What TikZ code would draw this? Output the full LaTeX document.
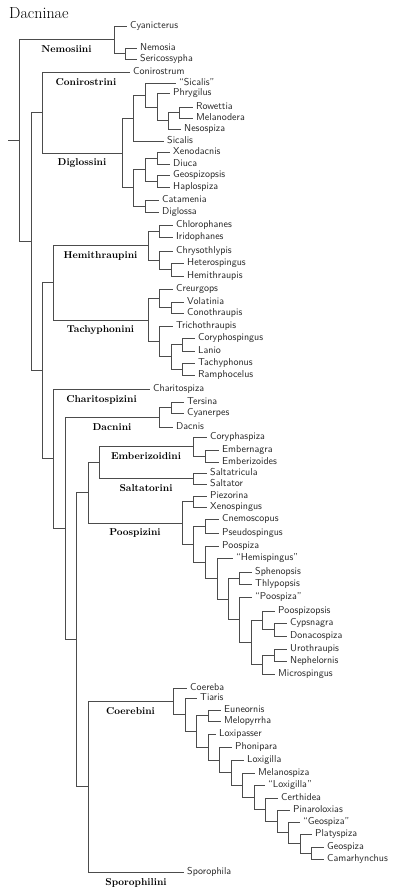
\documentclass[tikz,border=0pt]{standalone}
\usepackage{tikz}
\usetikzlibrary{positioning}

\begin{document}
\begin{tikzpicture}[
  x=1pt, y=-1pt,
  font=\sffamily\fontsize{10}{12}\selectfont,
  ramo/.style={draw=black!70, line width=0.6pt},
  folha/.style={anchor=west, inner xsep=3pt, inner ysep=0pt,
                text height=1.5ex, text depth=.5ex, text=black!85},
  tribo/.style={font=\rmfamily\bfseries\fontsize{10}{12}\selectfont,
                below=2.5pt, inner sep=3.3pt},
]
\useasboundingbox (0,0) rectangle (400,896);

\node[anchor=base west, inner sep=0pt, font=\rmfamily\fontsize{16}{18}\selectfont]
      (titulo) at (9,19) {Dacninae};

% ---- Raiz e Nemosiini -----------------------------------------------------
\coordinate (base) at (8,140.7);
\coordinate (n0)   at (19,140.7);
\coordinate (nem)  at (114,39.8);
\coordinate (nemB) at (125,53.5);
\node[folha] (cyanicterus)  at (127,26) {Cyanicterus};
\node[folha] (nemosia)      at (137,48) {Nemosia};
\node[folha] (sericossypha) at (137,59) {Sericossypha};

\draw[ramo] (base) -- (n0);
\draw[ramo] (n0) |- node[tribo, pos=.75] {Nemosiini} (nem);
\draw[ramo] (nem) |- (cyanicterus.west) (nem) |- (nemB);
\draw[ramo] (nemB) |- (nemosia.west) (nemB) |- (sericossypha.west);

% ---- Conirostrini e Diglossini ------------------------------------------
\coordinate (n1)   at (31,241.6);
\coordinate (cd)   at (42,112.4);
\coordinate (dig)  at (122,152.9);
\coordinate (dA)   at (133,118);
\coordinate (dA1)  at (145,94.9);
\coordinate (dA2)  at (157,106.9);
\coordinate (dA3)  at (168,120.75);
\coordinate (dA4)  at (179,112.5);
\coordinate (dB)   at (133,187.75);
\coordinate (dB1)  at (145,169.5);
\coordinate (dB11) at (157,158);
\coordinate (dB12) at (157,181);
\coordinate (dB2)  at (145,206);
\node[folha] (conirostrum)  at (130,72)  {Conirostrum};
\node[folha] (sicalisQ)     at (176,83)  {``Sicalis''};
\node[folha] (phrygilus)    at (170,93)  {Phrygilus};
\node[folha] (rowettia)     at (193,107) {Rowettia};
\node[folha] (melanodera)   at (193,118) {Melanodera};
\node[folha] (nesospiza)    at (181,129) {Nesospiza};
\node[folha] (sicalis)      at (164,141) {Sicalis};
\node[folha] (xenodacnis)   at (170,152) {Xenodacnis};
\node[folha] (diuca)        at (170,164) {Diuca};
\node[folha] (geospizopsis) at (170,175) {Geospizopsis};
\node[folha] (haplospiza)   at (170,187) {Haplospiza};
\node[folha] (catamenia)    at (159,200) {Catamenia};
\node[folha] (diglossa)     at (159,212) {Diglossa};

\draw[ramo] (n0) |- (n1);
\draw[ramo] (n1) |- (cd);
\draw[ramo] (cd) |- node[tribo, pos=.75] {Conirostrini} (conirostrum.west);
\draw[ramo] (cd) |- node[tribo, pos=.75] {Diglossini} (dig);
\draw[ramo] (dig) |- (dA) (dig) |- (dB);
\draw[ramo] (dA) |- (dA1) (dA) |- (sicalis.west);
\draw[ramo] (dA1) |- (sicalisQ.west) (dA1) |- (dA2);
\draw[ramo] (dA2) |- (phrygilus.west) (dA2) |- (dA3);
\draw[ramo] (dA3) |- (dA4) (dA3) |- (nesospiza.west);
\draw[ramo] (dA4) |- (rowettia.west) (dA4) |- (melanodera.west);
\draw[ramo] (dB) |- (dB1) (dB) |- (dB2);
\draw[ramo] (dB1) |- (dB11) (dB1) |- (dB12);
\draw[ramo] (dB11) |- (xenodacnis.west) (dB11) |- (diuca.west);
\draw[ramo] (dB12) |- (geospizopsis.west) (dB12) |- (haplospiza.west);
\draw[ramo] (dB2) |- (catamenia.west) (dB2) |- (diglossa.west);

% ---- Hemithraupini e Tachyphonini ----------------------------------------
\coordinate (n2)    at (42,370.7);
\coordinate (ht)    at (53,282.7);
\coordinate (hemi)  at (148,245.6);
\coordinate (h1)    at (159,231);
\coordinate (h2)    at (159,260.25);
\coordinate (h21)   at (171,269.5);
\coordinate (tachy) at (148,319.8);
\coordinate (t1)    at (159,298.25);
\coordinate (t11)   at (171,307.5);
\coordinate (t2)    at (159,341.4);
\coordinate (t21)   at (171,356.75);
\coordinate (t211)  at (182,344.5);
\coordinate (t212)  at (182,369);
\node[folha] (chlorophanes)   at (173,225) {Chlorophanes};
\node[folha] (iridophanes)    at (173,237) {Iridophanes};
\node[folha] (chrysothlypis)  at (173,251) {Chrysothlypis};
\node[folha] (heterospingus)  at (184,263) {Heterospingus};
\node[folha] (hemithraupis)   at (184,276) {Hemithraupis};
\node[folha] (creurgops)      at (173,289) {Creurgops};
\node[folha] (volatinia)      at (184,302) {Volatinia};
\node[folha] (conothraupis)   at (184,313) {Conothraupis};
\node[folha] (trichothraupis) at (173,326) {Trichothraupis};
\node[folha] (coryphospingus) at (195,338) {Coryphospingus};
\node[folha] (lanio)          at (195,351) {Lanio};
\node[folha] (tachyphonus)    at (195,363) {Tachyphonus};
\node[folha] (ramphocelus)    at (195,375) {Ramphocelus};

\draw[ramo] (n1) |- (n2);
\draw[ramo] (n2) |- (ht);
\draw[ramo] (ht) |- node[tribo, pos=.75] {Hemithraupini} (hemi);
\draw[ramo] (ht) |- node[tribo, pos=.75] {Tachyphonini} (tachy);
\draw[ramo] (hemi) |- (h1) (hemi) |- (h2);
\draw[ramo] (h1) |- (chlorophanes.west) (h1) |- (iridophanes.west);
\draw[ramo] (h2) |- (chrysothlypis.west) (h2) |- (h21);
\draw[ramo] (h21) |- (heterospingus.west) (h21) |- (hemithraupis.west);
\draw[ramo] (tachy) |- (t1) (tachy) |- (t2);
\draw[ramo] (t1) |- (creurgops.west) (t1) |- (t11);
\draw[ramo] (t11) |- (volatinia.west) (t11) |- (conothraupis.west);
\draw[ramo] (t2) |- (trichothraupis.west) (t2) |- (t21);
\draw[ramo] (t21) |- (t211) (t21) |- (t212);
\draw[ramo] (t211) |- (coryphospingus.west) (t211) |- (lanio.west);
\draw[ramo] (t212) |- (tachyphonus.west) (t212) |- (ramphocelus.west);

% ---- Charitospizini e Dacnini --------------------------------------------
\coordinate (n3)   at (53,458.7);
\coordinate (n4)   at (65,528.4);
\coordinate (dac)  at (159,417.25);
\coordinate (dac1) at (171,407.5);
\node[folha] (charitospiza) at (150,389) {Charitospiza};
\node[folha] (tersina)      at (184,402) {Tersina};
\node[folha] (cyanerpes)    at (184,413) {Cyanerpes};
\node[folha] (dacnis)       at (173,427) {Dacnis};

\draw[ramo] (n2) |- (n3);
\draw[ramo] (n3) |- node[tribo, pos=.75] {Charitospizini} (charitospiza.west);
\draw[ramo] (n3) |- (n4);
\draw[ramo] (n4) |- node[tribo, pos=.75] {Dacnini} (dac);
\draw[ramo] (dac) |- (dac1) (dac) |- (dacnis.west);
\draw[ramo] (dac1) |- (tersina.west) (dac1) |- (cyanerpes.west);

% ---- Emberizoidini, Saltatorini e Poospizini ------------------------------
\coordinate (n5)   at (76,639.6);
\coordinate (n6)   at (88,492.6);
\coordinate (es)   at (99,462.5);
\coordinate (emb)  at (193,446.5);
\coordinate (emb1) at (205,456);
\coordinate (sal)  at (193,478.5);
\coordinate (poo)  at (182,522.8);
\coordinate (pz)   at (193,501.5);
\coordinate (p1)   at (193,544);
\coordinate (p11)  at (205,526);
\coordinate (p2)   at (205,562.2);
\coordinate (p3)   at (217,578.4);
\coordinate (p4)   at (228,598.8);
\coordinate (p41)  at (239,578);
\coordinate (p5)   at (239,619.6);
\coordinate (p6)   at (251,642);
\coordinate (p61)  at (262,620);
\coordinate (p611) at (274,629.5);
\coordinate (p62)  at (262,664.5);
\coordinate (p621) at (274,655);
\node[folha] (coryphaspiza)  at (207,437) {Coryphaspiza};
\node[folha] (embernagra)    at (219,450) {Embernagra};
\node[folha] (emberizoides)  at (219,462) {Emberizoides};
\node[folha] (saltatricula)  at (207,473) {Saltatricula};
\node[folha] (saltator)      at (207,484) {Saltator};
\node[folha] (piezorina)     at (207,496) {Piezorina};
\node[folha] (xenospingus)   at (207,507) {Xenospingus};
\node[folha] (cnemoscopus)   at (219,519) {Cnemoscopus};
\node[folha] (pseudospingus) at (219,533) {Pseudospingus};
\node[folha] (poospiza)      at (219,546) {Poospiza};
\node[folha] (hemispingus)   at (233,558) {``Hemispingus''};
\node[folha] (sphenopsis)    at (252,572) {Sphenopsis};
\node[folha] (thlypopsis)    at (252,584) {Thlypopsis};
\node[folha] (poospizaQ)     at (252,597) {``Poospiza''};
\node[folha] (poospizopsis)  at (275,611) {Poospizopsis};
\node[folha] (cypsnagra)     at (287,623) {Cypsnagra};
\node[folha] (donacospiza)   at (287,636) {Donacospiza};
\node[folha] (urothraupis)   at (287,649) {Urothraupis};
\node[folha] (nephelornis)   at (287,661) {Nephelornis};
\node[folha] (microspingus)  at (275,674) {Microspingus};

\draw[ramo] (n4) |- (n5);
\draw[ramo] (n5) |- (n6);
\draw[ramo] (n6) |- (es);
\draw[ramo] (es) |- node[tribo, pos=.75] {Emberizoidini} (emb);
\draw[ramo] (es) |- node[tribo, pos=.75] {Saltatorini} (sal);
\draw[ramo] (emb) |- (coryphaspiza.west) (emb) |- (emb1);
\draw[ramo] (emb1) |- (embernagra.west) (emb1) |- (emberizoides.west);
\draw[ramo] (sal) |- (saltatricula.west) (sal) |- (saltator.west);
\draw[ramo] (n6) |- node[tribo, pos=.75] {Poospizini} (poo);
\draw[ramo] (poo) |- (pz) (poo) |- (p1);
\draw[ramo] (pz) |- (piezorina.west) (pz) |- (xenospingus.west);
\draw[ramo] (p1) |- (p11) (p1) |- (p2);
\draw[ramo] (p11) |- (cnemoscopus.west) (p11) |- (pseudospingus.west);
\draw[ramo] (p2) |- (poospiza.west) (p2) |- (p3);
\draw[ramo] (p3) |- (hemispingus.west) (p3) |- (p4);
\draw[ramo] (p4) |- (p41) (p4) |- (p5);
\draw[ramo] (p41) |- (sphenopsis.west) (p41) |- (thlypopsis.west);
\draw[ramo] (p5) |- (poospizaQ.west) (p5) |- (p6);
\draw[ramo] (p6) |- (p61) (p6) |- (p62);
\draw[ramo] (p61) |- (poospizopsis.west) (p61) |- (p611);
\draw[ramo] (p611) |- (cypsnagra.west) (p611) |- (donacospiza.west);
\draw[ramo] (p62) |- (p621) (p62) |- (microspingus.west);
\draw[ramo] (p621) |- (urothraupis.west) (p621) |- (nephelornis.west);

% ---- Coerebini e Sporophilini ---------------------------------------------
\coordinate (n7)  at (88,786.6);
\coordinate (coe) at (173,701.3);
\coordinate (c2)  at (185,714.6);
\coordinate (c3)  at (196,731.2);
\coordinate (c31) at (208,715.5);
\coordinate (g10) at (208,746.9);
\coordinate (g9)  at (219,759.8);
\coordinate (g8)  at (231,772.6);
\coordinate (g7)  at (242,785.2);
\coordinate (g6)  at (254,797.3);
\coordinate (g5)  at (265,809.7);
\coordinate (g4)  at (277,821.4);
\coordinate (g3)  at (288,832.75);
\coordinate (g2)  at (300,843.5);
\coordinate (g1)  at (311,853);
\node[folha] (coereba)      at (187,688) {Coereba};
\node[folha] (tiaris)       at (197,698) {Tiaris};
\node[folha] (euneornis)    at (221,710) {Euneornis};
\node[folha] (melopyrrha)   at (221,721) {Melopyrrha};
\node[folha] (loxipasser)   at (216,734) {Loxipasser};
\node[folha] (phonipara)    at (232,747) {Phonipara};
\node[folha] (loxigilla)    at (244,760) {Loxigilla};
\node[folha] (melanospiza)  at (255,773) {Melanospiza};
\node[folha] (loxigillaQ)   at (265,785) {``Loxigilla''};
\node[folha] (certhidea)    at (278,798) {Certhidea};
\node[folha] (pinaroloxias) at (290,810) {Pinaroloxias};
\node[folha] (geospizaQ)    at (300,822) {``Geospiza''};
\node[folha] (platyspiza)   at (312,834) {Platyspiza};
\node[folha] (geospiza)     at (324,847) {Geospiza};
\node[folha] (camarhynchus) at (324,859) {Camarhynchus};
\node[folha] (sporophila)   at (184,872) {Sporophila};

\draw[ramo] (n5) |- (n7);
\draw[ramo] (n7) |- node[tribo, pos=.75] {Coerebini} (coe);
\draw[ramo] (n7) |- node[tribo, pos=.75] {Sporophilini} (sporophila.west);
\draw[ramo] (coe) |- (coereba.west) (coe) |- (c2);
\draw[ramo] (c2) |- (tiaris.west) (c2) |- (c3);
\draw[ramo] (c3) |- (c31) (c3) |- (g10);
\draw[ramo] (c31) |- (euneornis.west) (c31) |- (melopyrrha.west);
\draw[ramo] (g10) |- (loxipasser.west) (g10) |- (g9);
\draw[ramo] (g9) |- (phonipara.west) (g9) |- (g8);
\draw[ramo] (g8) |- (loxigilla.west) (g8) |- (g7);
\draw[ramo] (g7) |- (melanospiza.west) (g7) |- (g6);
\draw[ramo] (g6) |- (loxigillaQ.west) (g6) |- (g5);
\draw[ramo] (g5) |- (certhidea.west) (g5) |- (g4);
\draw[ramo] (g4) |- (pinaroloxias.west) (g4) |- (g3);
\draw[ramo] (g3) |- (geospizaQ.west) (g3) |- (g2);
\draw[ramo] (g2) |- (platyspiza.west) (g2) |- (g1);
\draw[ramo] (g1) |- (geospiza.west) (g1) |- (camarhynchus.west);

\end{tikzpicture}
\end{document}
